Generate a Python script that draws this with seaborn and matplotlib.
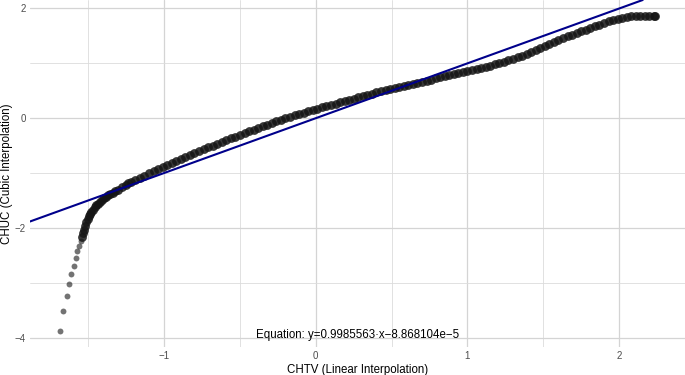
import numpy as np
import pandas as pd
import matplotlib
matplotlib.use("Agg")
import matplotlib.pyplot as plt
from matplotlib.ticker import MultipleLocator
import seaborn as sns

# ---- data ----
# sparse lower tail
tail_x = [-1.688, -1.664, -1.643, -1.627, -1.612, -1.597, -1.584, -1.572, -1.561, -1.551]
tail_y = [-3.880, -3.515, -3.237, -3.019, -2.838, -2.683, -2.547, -2.423, -2.332, -2.240]

# dense part of the curve
curve_x = [-1.542, -1.534, -1.526, -1.519, -1.512, -1.504, -1.496, -1.488, -1.479, -1.468,
           -1.457, -1.446, -1.436, -1.424, -1.411, -1.398, -1.384, -1.370, -1.355, -1.340,
           -1.322, -1.304, -1.28, -1.25, -1.238, -1.22, -1.19, -1.16, -1.13, -1.10,
           -1.07, -1.04, -1.01, -0.98, -0.95, -0.92, -0.89, -0.86, -0.83, -0.80,
           -0.77, -0.74, -0.71, -0.68, -0.65, -0.62, -0.59, -0.56, -0.53, -0.50,
           -0.47, -0.44, -0.41, -0.38, -0.35, -0.32, -0.29, -0.26, -0.23, -0.20,
           -0.17, -0.14, -0.11, -0.08, -0.05, -0.02, 0.01, 0.04, 0.07, 0.10,
           0.13, 0.16, 0.19, 0.22, 0.25, 0.28, 0.31, 0.34, 0.37, 0.40,
           0.43, 0.46, 0.49, 0.52, 0.55, 0.58, 0.61, 0.64, 0.67, 0.70,
           0.73, 0.76, 0.79, 0.82, 0.85, 0.88, 0.91, 0.94, 0.97, 1.00,
           1.03, 1.06, 1.09, 1.12, 1.15, 1.18, 1.21, 1.24, 1.27, 1.30,
           1.33, 1.36, 1.39, 1.42, 1.45, 1.48, 1.51, 1.54, 1.57, 1.60,
           1.63, 1.66, 1.69, 1.72, 1.75, 1.78, 1.81, 1.84, 1.87, 1.90,
           1.93, 1.96, 1.99, 2.02, 2.05, 2.08, 2.11, 2.14, 2.17, 2.20,
           2.23, 2.238]
curve_y = [-2.165, -2.100, -2.030, -1.960, -1.895, -1.840, -1.790, -1.750, -1.707, -1.665,
           -1.625, -1.588, -1.554, -1.522, -1.491, -1.462, -1.434, -1.403, -1.380, -1.356,
           -1.327, -1.299, -1.259, -1.209, -1.189, -1.165, -1.124, -1.083, -1.044, -1.006,
           -0.969, -0.930, -0.891, -0.851, -0.813, -0.776, -0.739, -0.702, -0.666, -0.632,
           -0.599, -0.566, -0.533, -0.500, -0.467, -0.434, -0.401, -0.368, -0.335, -0.303,
           -0.271, -0.239, -0.209, -0.178, -0.148, -0.118, -0.088, -0.059, -0.030, -0.001,
           0.027, 0.051, 0.076, 0.100, 0.124, 0.149, 0.173, 0.195, 0.218, 0.241,
           0.264, 0.287, 0.309, 0.332, 0.355, 0.378, 0.401, 0.424, 0.448, 0.471,
           0.494, 0.516, 0.534, 0.553, 0.571, 0.590, 0.608, 0.627, 0.646, 0.666,
           0.685, 0.704, 0.724, 0.743, 0.761, 0.779, 0.797, 0.814, 0.832, 0.851,
           0.872, 0.893, 0.914, 0.935, 0.956, 0.979, 1.004, 1.029, 1.055, 1.080,
           1.108, 1.140, 1.173, 1.207, 1.242, 1.278, 1.314, 1.350, 1.386, 1.421,
           1.455, 1.488, 1.520, 1.551, 1.581, 1.611, 1.650, 1.678, 1.705, 1.735,
           1.763, 1.788, 1.810, 1.828, 1.842, 1.852, 1.859, 1.862, 1.864, 1.865,
           1.865, 1.865]

slope = 0.9985563
intercept = -8.868104e-5
equation = "Equation: y=0.9985563\u00b7x\u22128.868104e\u22125"

# ---- style ----
sns.set_theme(style="whitegrid")
plt.rcParams["font.family"] = ["Liberation Sans", "DejaVu Sans"]
plt.rcParams["axes.unicode_minus"] = True

fig = plt.figure(figsize=(6.85, 3.75), dpi=100)
ax = fig.add_axes([30 / 685, 28 / 375, 655 / 685, 347 / 375])

tail = pd.DataFrame({"x": tail_x, "y": tail_y})
curve = pd.DataFrame({"x": curve_x, "y": curve_y})

sns.scatterplot(data=tail, x="x", y="y", ax=ax, s=18, color="black",
                alpha=0.55, linewidth=0, zorder=3)
sns.scatterplot(data=curve, x="x", y="y", ax=ax, s=40, color="#151515",
                alpha=0.85, linewidth=0, zorder=3)

ax.axline((0, intercept), slope=slope, color="#00008B", linewidth=1.5, zorder=4)

# ggplot-like 5% expansion
all_x = tail_x + curve_x
all_y = tail_y + curve_y
dx = (max(all_x) - min(all_x)) * 0.05
dy = (max(all_y) - min(all_y)) * 0.05
ax.set_xlim(min(all_x) - dx, max(all_x) + dx)
ax.set_ylim(min(all_y) - dy, max(all_y) + dy)

ax.text((min(all_x) + max(all_x)) / 2, -3.95, equation, ha="center", va="center",
        fontsize=8.3, color="black", zorder=5)

ax.xaxis.set_major_locator(MultipleLocator(1))
ax.xaxis.set_minor_locator(MultipleLocator(0.5))
ax.yaxis.set_major_locator(MultipleLocator(2))
ax.yaxis.set_minor_locator(MultipleLocator(1))
ax.grid(which="major", color="#d4d4d4", linewidth=0.9)
ax.grid(which="minor", color="#dcdcdc", linewidth=0.6)
ax.set_axisbelow(True)
for s in ax.spines.values():
    s.set_visible(False)
ax.set_facecolor("white")
ax.tick_params(which="both", length=0, labelsize=7, labelcolor="#4d4d4d")
ax.tick_params(axis="x", pad=3)
ax.tick_params(axis="y", pad=3)

ax.set_xlabel("CHTV (Linear Interpolation)", fontsize=8.3, color="black", labelpad=2)
ax.set_ylabel("CHUC (Cubic Interpolation)", fontsize=8.3, color="black", labelpad=1)

fig.savefig("out.png", dpi=100, facecolor="white")
